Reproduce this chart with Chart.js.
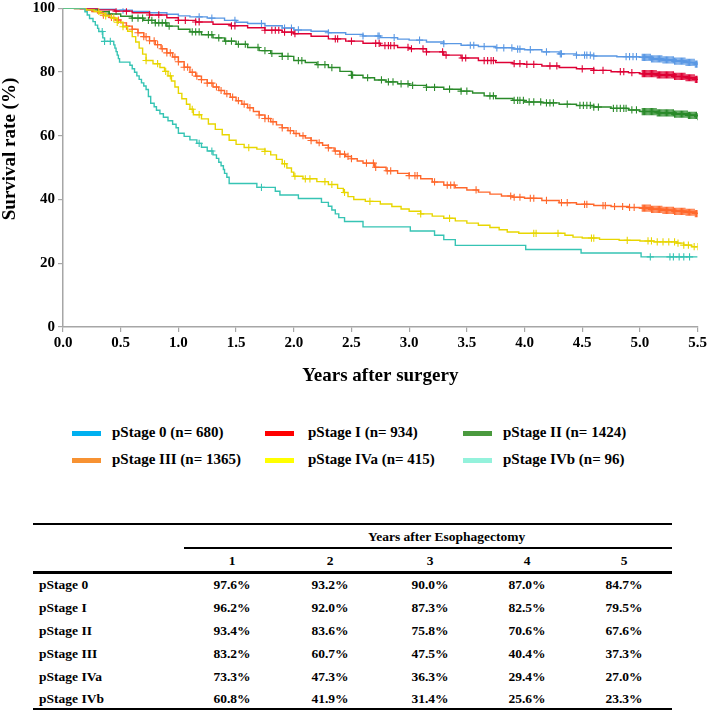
<!DOCTYPE html>
<html><head><meta charset="utf-8">
<script src="https://cdn.jsdelivr.net/npm/chart.js@4.4.1/dist/chart.umd.min.js"></script>
<style>
body{margin:0;background:#fff;width:709px;height:711px;overflow:hidden;position:relative;font-family:"Liberation Serif","Times New Roman",serif;font-weight:bold;color:#000}
#wrap{position:absolute;left:0;top:0;width:709px;height:387px}
.abs{position:absolute;white-space:nowrap;line-height:1}
.hl{position:absolute;background:#000}
#ytitle{position:absolute;left:-91px;top:139px;width:200px;height:20px;line-height:20px;text-align:center;font-size:19px;transform:rotate(-90deg);transform-origin:center center;white-space:nowrap}
</style></head><body>
<div id="wrap"><canvas id="c" width="709" height="387"></canvas></div>
<div id="ytitle">Survival rate (%)</div>
<div id="legend"></div>
<div id="table"></div>
<script>
// ---------- DATA ----------
const stages = ['pStage 0','pStage I','pStage II','pStage III','pStage IVa','pStage IVb'];
const counts = [680, 934, 1424, 1365, 415, 96];

// Kaplan-Meier step data: event times (years) and survival (%) after each step
const t0 = [0,0.15,0.3,0.45,0.6,0.75,0.9,1.0,1.1,1.25,1.4,1.5,1.6,1.75,1.9,2.0,2.15,2.3,2.45,2.6,2.75,2.9,3.0,3.15,3.3,3.45,3.6,3.75,3.9,4.0,4.15,4.3,4.45,4.6,4.8,5.0,5.1,5.2,5.3,5.4,5.48,5.5];
const s0 = [100,99.9,99.7,99.4,99.0,98.6,98.1,97.6,97.3,96.9,96.2,95.6,95.2,94.5,93.8,93.2,92.8,92.3,91.8,91.3,90.8,90.3,90.0,89.4,88.9,88.4,88.0,87.6,87.2,87.0,86.3,85.7,85.3,85.0,84.8,84.6,84.1,83.8,83.4,83.0,82.5,82.5];

const t1 = [0,0.15,0.3,0.45,0.6,0.75,0.9,1.0,1.15,1.3,1.45,1.6,1.75,1.9,2.0,2.15,2.3,2.45,2.6,2.75,2.9,3.0,3.15,3.3,3.45,3.6,3.75,3.9,4.0,4.15,4.3,4.45,4.6,4.75,4.9,5.0,5.15,5.3,5.4,5.48,5.5];
const s1 = [100,99.9,99.5,99.1,98.6,97.9,97.0,96.2,95.7,95.0,94.5,93.9,93.1,92.5,92.0,91.2,90.4,89.7,89.0,88.3,87.7,87.3,86.3,85.3,84.4,83.6,83.0,82.6,82.4,81.9,81.4,81.0,80.5,80.1,79.8,79.5,79.1,78.6,78.2,77.7,77.7];

const t2 = [0,0.1,0.2,0.3,0.4,0.5,0.6,0.7,0.8,0.9,1.0,1.1,1.2,1.3,1.4,1.5,1.6,1.7,1.8,1.9,2.0,2.1,2.2,2.3,2.4,2.5,2.6,2.7,2.8,2.9,3.0,3.15,3.3,3.45,3.55,3.65,3.75,3.9,4.0,4.15,4.3,4.45,4.6,4.75,4.9,5.0,5.15,5.3,5.42,5.5];
const s2 = [100,99.9,99.5,98.9,98.2,97.5,96.9,96.2,95.4,94.4,93.4,92.6,91.7,90.7,89.7,88.7,87.7,86.7,85.8,84.9,83.6,83.0,82.3,81.4,80.2,79.0,78.2,77.5,76.9,76.3,75.8,75.2,74.6,74.0,73.4,72.5,71.7,71.1,70.6,70.3,69.9,69.5,69.0,68.6,68.1,67.6,67.2,66.8,66.4,66.0];

const t3 = [0,0.1,0.2,0.25,0.3,0.35,0.4,0.45,0.5,0.55,0.6,0.65,0.7,0.75,0.8,0.85,0.9,0.95,1.0,1.05,1.1,1.15,1.2,1.25,1.3,1.35,1.4,1.45,1.5,1.55,1.6,1.65,1.7,1.75,1.8,1.85,1.9,1.95,2.0,2.05,2.1,2.15,2.2,2.25,2.3,2.35,2.4,2.45,2.5,2.55,2.6,2.7,2.8,2.9,3.0,3.1,3.2,3.3,3.4,3.5,3.6,3.7,3.8,3.9,4.0,4.15,4.3,4.45,4.6,4.75,4.9,5.0,5.1,5.2,5.3,5.4,5.48,5.5];
const s3 = [100,99.9,99.5,99.0,98.5,97.8,97.1,96.3,95.4,94.4,93.4,92.3,91.1,89.8,88.6,87.3,86.0,84.7,83.2,81.5,79.9,78.7,77.6,76.5,75.3,74.2,73.2,72.1,71.0,69.9,68.8,67.6,66.5,65.4,64.4,63.4,62.5,61.6,60.7,60.0,59.3,58.5,57.8,57.0,56.2,55.2,54.2,53.5,52.8,52.1,51.4,50.1,49.0,48.2,47.5,46.5,45.5,44.5,43.7,43.0,42.3,41.7,41.1,40.7,40.4,39.7,39.0,38.5,38.1,37.8,37.5,37.3,36.9,36.6,36.3,36.0,35.6,35.6];

const t4 = [0,0.2,0.27,0.32,0.37,0.42,0.47,0.52,0.56,0.6,0.63,0.66,0.69,0.72,0.78,0.84,0.88,0.91,0.94,0.97,1.0,1.03,1.07,1.1,1.13,1.2,1.26,1.32,1.38,1.44,1.5,1.57,1.68,1.75,1.8,1.85,1.9,1.94,1.98,2.0,2.08,2.2,2.3,2.38,2.43,2.47,2.52,2.62,2.75,2.85,2.93,3.0,3.1,3.2,3.3,3.4,3.5,3.6,3.7,3.78,3.85,3.95,4.35,4.42,4.5,4.65,4.82,5.0,5.12,5.32,5.38,5.45,5.5];
const s4 = [100,99.5,99.0,98.3,97.6,96.9,95.6,94.2,92.8,91.1,89.4,87.5,85.6,83.6,82.6,81.4,80.2,78.8,77.2,75.3,73.3,71.6,69.9,68.3,66.6,65.3,63.7,62.0,60.3,58.6,57.3,56.3,55.8,55.1,54.0,52.6,51.2,49.9,48.6,47.3,46.5,45.6,44.7,43.5,42.2,40.9,40.0,39.4,38.6,37.8,37.0,36.3,35.5,34.8,34.1,33.3,32.6,31.9,31.2,30.5,29.8,29.4,28.8,28.2,27.9,27.5,27.2,27.0,26.7,26.3,25.7,25.2,25.2];

const t5 = [0,0.19,0.21,0.23,0.26,0.28,0.3,0.31,0.345,0.36,0.44,0.45,0.46,0.47,0.48,0.49,0.58,0.6,0.62,0.64,0.66,0.68,0.7,0.72,0.74,0.76,0.79,0.81,0.84,0.87,0.91,0.95,0.98,1.0,1.05,1.1,1.16,1.2,1.25,1.3,1.33,1.35,1.37,1.39,1.4,1.42,1.44,1.68,1.84,1.88,2.04,2.24,2.3,2.33,2.36,2.39,2.44,2.6,3.01,3.22,3.3,3.4,4.01,4.49,5.01,5.5];
const s5 = [100,98.9,97.9,96.8,95.8,94.7,93.7,92.7,90.7,89.6,88.5,87.5,86.4,85.3,84.2,83.1,82.1,81.0,79.9,78.8,77.7,76.6,75.6,74.5,72.3,70.2,69.1,68.0,66.9,65.8,64.7,63.6,62.5,60.8,59.8,58.7,57.6,56.4,55.2,54.0,52.9,51.7,50.6,49.4,48.2,47.0,45.0,43.8,42.6,41.4,40.3,39.1,37.9,36.7,35.5,34.3,33.1,31.4,30.1,28.8,27.4,25.6,24.3,23.2,22.0,22.0];

// Censoring times (years)
const tailCensor = [5.02,5.03,5.04,5.05,5.06,5.07,5.08,5.09,5.1,5.11,5.12,5.13,5.14,5.15,5.16,5.17,5.18,5.19,5.2,5.21,5.22,5.23,5.24,5.25,5.26,5.27,5.28,5.29,5.3,5.31,5.32,5.33,5.34,5.35,5.36,5.37,5.38,5.39,5.4,5.41,5.42,5.43,5.44,5.45,5.46,5.47,5.48,5.49,5.5];
const c0 = [0.26,0.52,1.18,1.29,1.49,1.72,1.92,1.98,2.04,2.3,2.6,2.73,2.74,2.87,3.09,3.3,3.53,3.56,3.65,3.76,3.82,3.89,3.94,3.96,4.05,4.19,4.31,4.32,4.45,4.52,4.54,4.57,4.6,4.88,4.91,4.94,4.97];
const c1 = [0.46,0.55,0.75,0.83,1.0,1.06,1.15,1.18,1.46,1.49,1.75,1.81,1.84,1.87,1.92,1.98,2.01,2.36,2.38,2.5,2.71,2.74,2.79,2.82,2.84,2.87,2.99,3.02,3.12,3.15,3.29,3.32,3.46,3.49,3.65,3.68,3.71,3.73,3.91,3.96,4.02,4.08,4.22,4.28,4.5,4.6,4.68,4.83,4.86,4.93];
const c2 = [0.4,0.6,0.65,0.69,0.74,0.77,0.8,0.83,0.86,0.89,0.92,1.12,1.15,1.18,1.26,1.29,1.35,1.41,1.46,1.52,1.58,1.69,1.75,1.81,1.9,1.95,2.04,2.07,2.21,2.27,2.33,2.5,2.51,2.64,2.76,2.82,2.86,2.93,2.99,3.03,3.15,3.22,3.35,3.45,3.5,3.7,3.73,3.91,3.94,3.96,3.99,4.04,4.08,4.14,4.19,4.22,4.25,4.37,4.48,4.51,4.54,4.57,4.6,4.64,4.77,4.8,4.83,4.86,4.88,4.93,4.97];
const c3 = [0.35,0.42,0.48,0.55,0.6,0.65,0.7,0.72,0.75,0.79,0.82,0.86,0.9,0.93,0.97,1.0,1.05,1.08,1.12,1.16,1.2,1.25,1.29,1.33,1.37,1.42,1.47,1.52,1.57,1.62,1.7,1.75,1.78,1.82,1.9,1.97,2.02,2.08,2.15,2.22,2.3,2.36,2.4,2.44,2.47,2.5,2.63,2.69,2.71,2.81,2.84,3.0,3.05,3.07,3.22,3.33,3.36,3.39,3.58,3.88,3.91,3.96,4.05,4.08,4.19,4.32,4.37,4.52,4.54,4.68,4.7,4.78,4.85,4.91,4.95];
const c4 = [0.31,0.37,0.44,0.47,0.52,0.72,0.82,0.89,0.93,1.12,1.18,1.61,1.75,1.92,2.01,2.1,2.14,2.27,2.33,2.44,2.66,3.1,3.35,4.08,4.1,4.29,4.58,4.6,4.89,5.07,5.1,5.15,5.2,5.25,5.3,5.33,5.38,5.42,5.47,5.5];
const c5 = [0.34,0.36,0.41,1.18,1.29,1.72,5.09,5.26,5.29,5.34,5.38,5.43];

// Table: survival (%) at 1..5 years after esophagectomy
const tableYears = ['1','2','3','4','5'];
const tab0 = ['97.6%','93.2%','90.0%','87.0%','84.7%'];
const tab1 = ['96.2%','92.0%','87.3%','82.5%','79.5%'];
const tab2 = ['93.4%','83.6%','75.8%','70.6%','67.6%'];
const tab3 = ['83.2%','60.7%','47.5%','40.4%','37.3%'];
const tab4 = ['73.3%','47.3%','36.3%','29.4%','27.0%'];
const tab5 = ['60.8%','41.9%','31.4%','25.6%','23.3%'];

const xTicks = [0,0.5,1,1.5,2,2.5,3,3.5,4,4.5,5,5.5];
const yTicks = [0,20,40,60,80,100];

// ---------- STYLE ----------
const lineColors = ['rgb(90,152,228)','rgb(222,0,52)','rgb(42,138,42)','rgb(255,104,44)','rgb(232,214,0)','rgb(54,196,180)'];
const legendColors = ['#00b0f0','#ff0000','#4a9a3e','#f79232','#ffff00','#94f2dc'];
const FONT = '"Liberation Serif","Times New Roman",serif';

const T = [t0,t1,t2,t3,t4,t5], S = [s0,s1,s2,s3,s4,s5];
const C = [c0.concat(tailCensor),c1.concat(tailCensor),c2.concat(tailCensor),c3.concat(tailCensor),c4,c5];

function survAt(ts, ss, t){ let v = ss[0]; for (let i=0;i<ts.length;i++){ if (ts[i] <= t + 1e-9) v = ss[i]; } return v; }

const datasets = [];
for (let k=5;k>=0;k--){
  datasets.push({label:stages[k], data:T[k].map((t,i)=>({x:t,y:S[k][i]})), stepped:true, borderColor:lineColors[k], borderWidth:1.4, pointRadius:0, fill:false});
  datasets.push({label:stages[k]+' censored', data:C[k].map(t=>({x:t,y:survAt(T[k],S[k],t)})), showLine:false, pointStyle:'cross', pointRadius:3.6, borderColor:lineColors[k], borderWidth:1.1, backgroundColor:lineColors[k]});
}

new Chart(document.getElementById('c'), {
  type:'line',
  data:{datasets},
  options:{
    responsive:false, animation:false, events:[],
    layout:{padding:{left:0,right:6,top:0,bottom:0}},
    plugins:{legend:{display:false}, tooltip:{enabled:false}},
    scales:{
      x:{type:'linear', min:0, max:5.5,
        afterBuildTicks:s=>{s.ticks = xTicks.map(v=>({value:v}));},
        afterFit:s=>{s.height = 60;},
        ticks:{callback:v=>Number(v).toFixed(1), color:'#000', font:{family:FONT, size:15, weight:'bold'}, padding:2, maxRotation:0, autoSkip:false},
        grid:{drawOnChartArea:false, drawTicks:true, tickLength:5, color:'#a6a6a6', lineWidth:1.2},
        border:{color:'#a6a6a6', width:1.5},
        title:{display:true, text:'Years after surgery', color:'#000', font:{family:FONT, size:19, weight:'bold', lineHeight:1.2}, padding:{top:0,bottom:0}}
      },
      y:{type:'linear', min:0, max:100,
        afterBuildTicks:s=>{s.ticks = yTicks.map(v=>({value:v}));},
        afterFit:s=>{s.width = 63;},
        ticks:{color:'#000', font:{family:FONT, size:15, weight:'bold', lineHeight:0.7}, padding:3},
        grid:{drawOnChartArea:false, drawTicks:true, tickLength:5, color:'#a6a6a6', lineWidth:1.2},
        border:{color:'#a6a6a6', width:1.5},
        title:{display:false, text:'Survival rate (%)'}
      }
    }
  }
});

// ---------- LEGEND (HTML) ----------
const legend = document.getElementById('legend');
const swatchX = [72,265,463], textX = [112,308,503], rowY = [433,460];
stages.forEach((st,k)=>{
  const col = k%3, row = Math.floor(k/3);
  const sw = document.createElement('div');
  sw.className='abs'; sw.style.left=swatchX[col]+'px'; sw.style.top=(rowY[row]-2.5)+'px'; sw.style.width='29px'; sw.style.height='5px'; sw.style.background=legendColors[k];
  legend.appendChild(sw);
  const tx = document.createElement('div');
  tx.className='abs'; tx.style.left=textX[col]+'px'; tx.style.top=(rowY[row]-8)+'px'; tx.style.fontSize='15px';
  tx.textContent = st+' (n= '+counts[k]+')';
  legend.appendChild(tx);
});

// ---------- TABLE (HTML) ----------
const table = document.getElementById('table');
function line(x,y,w,h){const d=document.createElement('div');d.className='hl';d.style.left=x+'px';d.style.top=y+'px';d.style.width=w+'px';d.style.height=h+'px';table.appendChild(d);}
function text(str,cx,cy,align){const d=document.createElement('div');d.className='abs';d.style.fontSize='13.5px';d.textContent=str;d.style.top=(cy-7)+'px';
  if(align==='left'){d.style.left=cx+'px';} else {d.style.left=(cx-60)+'px';d.style.width='120px';d.style.textAlign='center';}
  table.appendChild(d);}
const tabL=33, tabR=672, subL=184;
const colX=[232,330,430,527,624];
const rowsY=[585,608,631,654,677,699];
line(tabL,523,tabR-tabL,2);
text('Years after Esophagectomy',(subL+tabR)/2,537);
line(subL,547,tabR-subL,1.5);
tableYears.forEach((y,i)=>text(y,colX[i],561));
line(tabL,571,tabR-tabL,2.5);
const tabs=[tab0,tab1,tab2,tab3,tab4,tab5];
stages.forEach((st,r)=>{
  text(st,39,rowsY[r],'left');
  tabs[r].forEach((v,i)=>text(v,colX[i],rowsY[r]));
});
line(tabL,708,tabR-tabL,2);
</script>
</body></html>
